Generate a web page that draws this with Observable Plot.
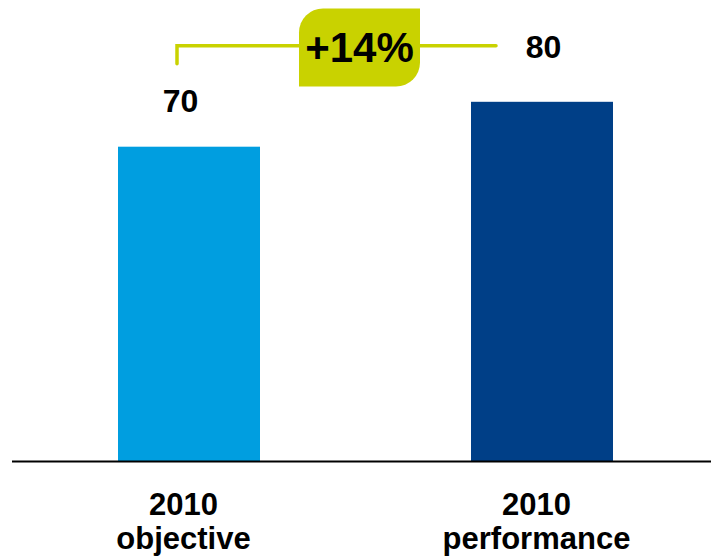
<!DOCTYPE html>
<html><head><meta charset="utf-8">
<script src="https://cdn.jsdelivr.net/npm/d3@7"></script>
<script src="https://cdn.jsdelivr.net/npm/@observablehq/plot@0.6"></script>
<style>body{margin:0;background:#fff;} svg{display:block}</style>
</head><body><div id="chart"></div>
<script>
const categories = ["2010\nobjective", "2010\nperformance"];
const values = [70, 80];
const barColors = ["#009ee0", "#003f87"];
const changeLabel = "+14%";
const accent = "#c9d200";

const data = categories.map((c, i) => ({category: c, value: values[i], color: barColors[i], label: String(values[i])}));
const font = "'Liberation Sans', Arial, Helvetica, sans-serif";

const chart = Plot.plot({
  width: 711, height: 557,
  marginLeft: 29.75, marginRight: 9.75, marginTop: 12, marginBottom: 96,
  style: {fontFamily: font, background: "#fff"},
  x: {domain: categories, paddingInner: 0.598, paddingOuter: 0.25, axis: null},
  y: {domain: [0, 100], axis: null},
  color: {type: "identity"},
  marks: [
    Plot.barY(data, {x: "category", y: "value", fill: "color"}),
    Plot.ruleY([0], {stroke: "#000", strokeWidth: 2, insetLeft: -17.75, insetRight: -9.75}),
    Plot.text(data, {x: "category", y: 0, text: "category", lineAnchor: "top", dy: 29, dx: -6,
      fontSize: 31, fontWeight: "bold", lineHeight: 1.1, fill: "#000"}),
    Plot.text(data.slice(0, 1), {x: "category", y: "value", text: "label", lineAnchor: "bottom", dy: -35, dx: -9,
      fontSize: 32, fontWeight: "bold", fill: "#000"}),
    Plot.text(data.slice(1), {x: "category", y: "value", text: "label", lineAnchor: "bottom", dy: -44, dx: 1,
      fontSize: 32, fontWeight: "bold", fill: "#000"})
  ]
});
document.getElementById("chart").append(chart);

// annotation: bracket + change badge, positioned from the plot's scales
const sx = chart.scale("x"), sy = chart.scale("y");
const cx = c => sx.apply(c) + sx.bandwidth / 2;
const xa = cx(categories[0]) - 12, xb = cx(categories[1]) - 46;
const yLine = sy.apply(92.5), yTick = sy.apply(88.5);
const mid = (cx(categories[0]) + cx(categories[1])) / 2 - 6;
const bw = 121, r = 24;
const bx0 = mid - bw / 2, bx1 = mid + bw / 2;
const by0 = sy.apply(100.8), by1 = sy.apply(83.4);
const g = d3.select(chart).append("g");
g.append("path")
  .attr("d", `M${xa},${yTick}V${yLine}H${xb}`)
  .attr("fill", "none").attr("stroke", accent).attr("stroke-width", 3.5)
  .attr("stroke-linecap", "round");
g.append("path")
  .attr("d", `M${bx0},${by0 + r}A${r},${r} 0 0 1 ${bx0 + r},${by0}H${bx1}V${by1 - r}A${r},${r} 0 0 1 ${bx1 - r},${by1}H${bx0}Z`)
  .attr("fill", accent);
g.append("text")
  .attr("x", mid).attr("y", sy.apply(88.9))
  .attr("text-anchor", "middle")
  .attr("font-family", font).attr("font-size", 42).attr("font-weight", "bold")
  .attr("fill", "#000")
  .text(changeLabel);
</script>
</body></html>
